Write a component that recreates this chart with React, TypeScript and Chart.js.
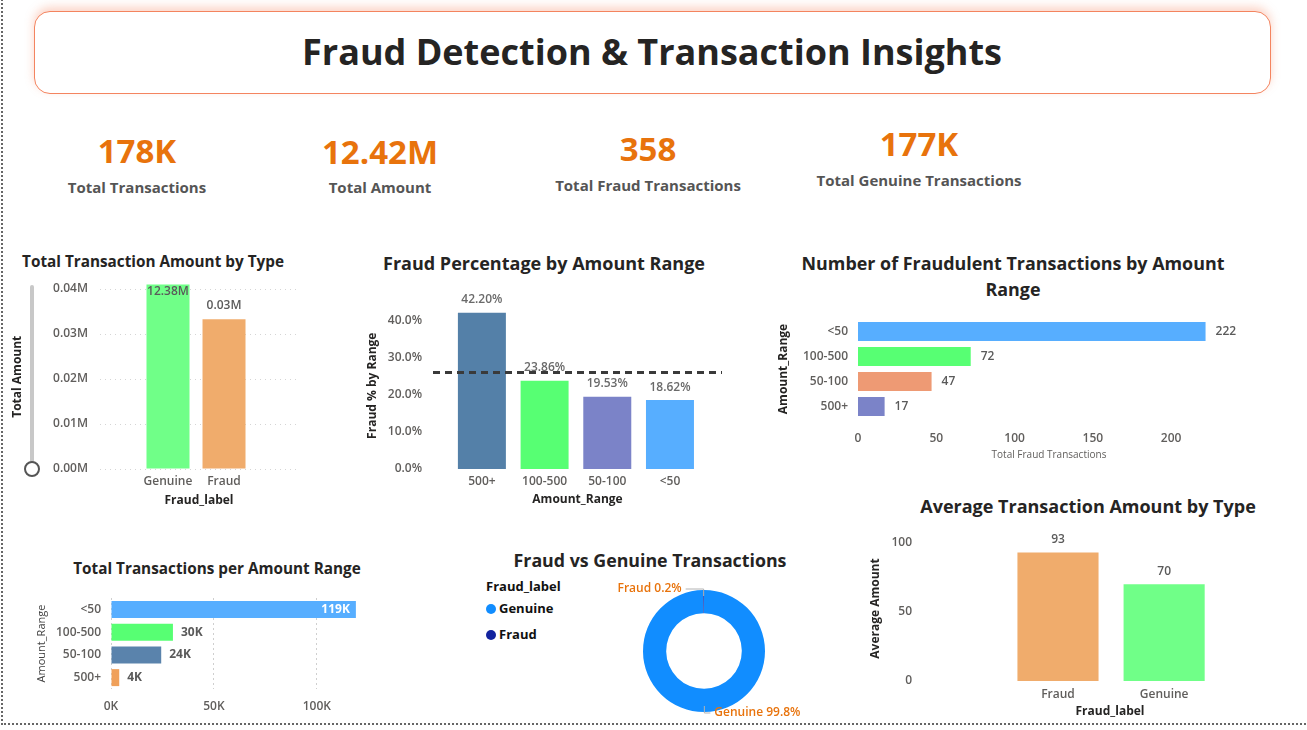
import React, { useEffect, useRef } from 'react';
import { Chart, registerables } from 'chart.js';

Chart.register(...registerables);

const FONT = "'Open Sans', 'Noto Sans', sans-serif";
Chart.defaults.font.family = FONT;

const TICK = '#605E5C';
const DARK = '#252423';
const ORANGE = '#E8730C';

// ---------------- DATA ----------------
const dashboardTitle = 'Fraud Detection & Transaction Insights';

const kpiValues = ['178K', '12.42M', '358', '177K'];
const kpiLabels = ['Total Transactions', 'Total Amount', 'Total Fraud Transactions', 'Total Genuine Transactions'];

// Total Transaction Amount by Type
const amountTypeLabels = ['Genuine', 'Fraud'];
const totalAmountByType = [12380000, 33300];
const amountAxisTicks = [0, 10000, 20000, 30000, 40000];

// Fraud Percentage by Amount Range
const pctRangeLabels = ['500+', '100-500', '50-100', '<50'];
const fraudPctByRange = [42.2, 23.86, 19.53, 18.62];
const fraudPctAverage = 26.05;
const pctAxisTicks = [0, 10, 20, 30, 40];

// Number of Fraudulent Transactions by Amount Range
const fraudCountRangeLabels = ['<50', '100-500', '50-100', '500+'];
const fraudCountByRange = [222, 72, 47, 17];
const fraudCountAxisTicks = [0, 50, 100, 150, 200];

// Total Transactions per Amount Range
const txnRangeLabels = ['<50', '100-500', '50-100', '500+'];
const txnCountByRange = [119000, 30100, 24400, 4000];
const txnAxisTicks = [0, 50000, 100000];

// Fraud vs Genuine Transactions
const donutLabels = ['Genuine', 'Fraud'];
const donutValues = [177450, 358];

// Average Transaction Amount by Type
const avgTypeLabels = ['Fraud', 'Genuine'];
const avgAmountByType = [93, 70];
const avgAxisTicks = [0, 50, 100];

// ---------------- STYLES ----------------
const amountTypeColors = ['#70FF88', '#F0AC6C'];
const pctRangeColors = ['#5480A8', '#57FF73', '#7B83C8', '#57AEFF'];
const fraudCountColors = ['#57AEFF', '#57FF73', '#EE9A74', '#7B83C8'];
const txnRangeColors = ['#57AEFF', '#57FF73', '#5A83AC', '#F0A05A'];
const donutColors = ['#118DFF', '#12239E'];
const avgTypeColors = ['#F0AC6C', '#70FF88'];

const kpiPos = [
  { x: 137, v: 150, l: 187 },
  { x: 380, v: 151, l: 187 },
  { x: 648, v: 148, l: 185 },
  { x: 919, v: 143, l: 180 },
];

// ---------------- PLUGINS ----------------
function makeBarLabels(cfg: any) {
  return {
    id: 'barLabels',
    afterDatasetsDraw(chart: any) {
      const { ctx, chartArea } = chart;
      const horizontal = chart.options.indexAxis === 'y';
      const meta = chart.getDatasetMeta(0);
      const values = cfg.values;
      ctx.save();
      ctx.font = cfg.font || `600 12px ${FONT}`;
      meta.data.forEach((bar: any, i: number) => {
        const text = cfg.format(values[i]);
        const inside = cfg.inside && cfg.inside.includes(i);
        ctx.fillStyle = inside ? cfg.insideColor : cfg.color;
        ctx.textBaseline = 'middle';
        if (horizontal) {
          const end = Math.min(bar.x, chartArea.right);
          if (inside) {
            ctx.textAlign = 'right';
            ctx.fillText(text, end - 6, bar.y);
          } else {
            ctx.textAlign = 'left';
            ctx.fillText(text, end + cfg.offset, bar.y);
          }
        } else {
          const top = Math.max(bar.y, chartArea.top);
          ctx.textAlign = 'center';
          if (inside) ctx.fillText(text, bar.x, top + 7);
          else ctx.fillText(text, bar.x, top - cfg.offset);
        }
      });
      ctx.restore();
    },
  };
}

function makeAvgLine(value: number) {
  return {
    id: 'avgLine',
    afterDatasetsDraw(chart: any) {
      const { ctx, chartArea, scales } = chart;
      const y = scales.y.getPixelForValue(value);
      ctx.save();
      ctx.strokeStyle = '#3A3A3A';
      ctx.lineWidth = 3;
      ctx.setLineDash([7, 5]);
      ctx.beginPath();
      ctx.moveTo(chartArea.left, y);
      ctx.lineTo(chartArea.right, y);
      ctx.stroke();
      ctx.restore();
    },
  };
}

function makeDonutLabels(lineLens: number[]) {
  return {
    id: 'donutLabels',
    afterDatasetsDraw(chart: any) {
      const { ctx } = chart;
      const meta = chart.getDatasetMeta(0);
      const data = chart.data.datasets[0].data as number[];
      const total = data.reduce((a, b) => a + b, 0);
      ctx.save();
      ctx.font = `600 12px ${FONT}`;
      ctx.textBaseline = 'middle';
      meta.data.forEach((arc: any, i: number) => {
        const mid = (arc.startAngle + arc.endAngle) / 2;
        const r = arc.outerRadius;
        const side = Math.cos(mid) < 0 ? -1 : 1;
        const vert = Math.sin(mid) < 0 ? -1 : 1;
        const ax = arc.x + Math.cos(mid) * (r - 6);
        const ay = arc.y + Math.sin(mid) * (r - 6);
        const ey = arc.y + vert * (r + 1);
        const ex = ax + side * lineLens[i];
        ctx.strokeStyle = '#B3B3B3';
        ctx.lineWidth = 1;
        ctx.beginPath();
        ctx.moveTo(ax, ay);
        ctx.lineTo(ax, ey);
        ctx.lineTo(ex, ey);
        ctx.stroke();
        const pct = ((data[i] / total) * 100).toFixed(1);
        ctx.fillStyle = ORANGE;
        ctx.textAlign = side < 0 ? 'right' : 'left';
        ctx.fillText(`${chart.data.labels[i]} ${pct}%`, ex + side * 4, ey);
      });
      ctx.restore();
    },
  };
}

// ---------------- HELPERS ----------------
const tickFont = { size: 12, weight: '600' as any };
const axisTitleFont = { size: 12, weight: 'bold' as any };

const fixHeight = (h: number) => (s: any) => {
  s.height = h;
  s.paddingLeft = 0;
  s.paddingRight = 0;
};
const fixWidth = (w: number) => (s: any) => {
  s.width = w;
  s.paddingTop = 0;
  s.paddingBottom = 0;
};
const useTicks = (values: number[]) => (s: any) => {
  s.ticks = values.map((value) => ({ value }));
};

function categoryLinearAxis(labels: string[], min: number, max: number, tickPad: number, title: string, titlePadBottom: number, height: number) {
  return {
    type: 'linear',
    min,
    max,
    bounds: 'data',
    offset: false,
    grid: { display: false, drawTicks: false, offset: false },
    border: { display: false },
    afterBuildTicks: (s: any) => {
      s.ticks = labels.map((_, i) => ({ value: i }));
    },
    ticks: {
      callback: (v: any) => labels[v] ?? '',
      padding: tickPad,
      autoSkip: false,
      maxRotation: 0,
      color: TICK,
      font: tickFont,
    },
    title: { display: true, text: title, color: DARK, font: { size: 12, weight: 'bold' }, padding: { top: 0, bottom: titlePadBottom } },
    afterFit: fixHeight(height),
  };
}

function ChartBox({ left, top, width, height, make }: any) {
  const ref = useRef<HTMLCanvasElement>(null);
  useEffect(() => {
    const chart = new Chart(ref.current as HTMLCanvasElement, make());
    return () => chart.destroy();
  }, []);
  return (
    <div style={{ position: 'absolute', left, top, width, height }}>
      <canvas ref={ref} width={width} height={height} style={{ display: 'block', width, height }} />
    </div>
  );
}

function Text({ x, y, size, weight = 700, color = DARK, children, style }: any) {
  return (
    <div
      style={{
        position: 'absolute',
        left: x,
        top: y,
        transform: 'translate(-50%, -50%)',
        whiteSpace: 'nowrap',
        fontFamily: FONT,
        fontSize: size,
        fontWeight: weight,
        color,
        lineHeight: 1,
        ...style,
      }}
    >
      {children}
    </div>
  );
}

// ---------------- CHART CONFIGS ----------------
const makeAmountByType = () => ({
  type: 'bar',
  data: {
    datasets: [
      {
        data: totalAmountByType.map((y, i) => ({ x: i, y })),
        backgroundColor: amountTypeColors,
        barPercentage: 43 / 56,
        categoryPercentage: 1,
      },
    ],
  },
  options: {
    responsive: false,
    animation: false,
    layout: { padding: { top: 9.5, right: 7, left: 0, bottom: 0 } },
    plugins: { legend: { display: false }, tooltip: { enabled: false } },
    scales: {
      x: categoryLinearAxis(amountTypeLabels, -1.214, 2.321, 5, 'Fraud_label', 2.4, 41),
      y: {
        min: 0,
        max: 41000,
        bounds: 'data',
        afterBuildTicks: useTicks(amountAxisTicks),
        ticks: {
          callback: (v: any) => (v / 1e6).toFixed(2) + 'M',
          padding: 12,
          color: TICK,
          font: tickFont,
        },
        grid: { color: '#D5D5D5', drawTicks: false },
        border: { display: false, dash: [1, 4] },
        title: { display: true, text: 'Total Amount', color: DARK, font: axisTitleFont, padding: { top: 5, bottom: 0 } },
        afterFit: fixWidth(95),
      },
    },
  },
  plugins: [
    makeBarLabels({
      values: totalAmountByType,
      format: (v: number) => (v / 1e6).toFixed(2) + 'M',
      color: '#5A5A5A',
      inside: [0],
      insideColor: '#5A5A5A',
      offset: 14,
    }),
  ],
});

const makeFraudPct = () => ({
  type: 'bar',
  data: {
    datasets: [
      {
        data: fraudPctByRange.map((y, i) => ({ x: i, y })),
        backgroundColor: pctRangeColors,
        barPercentage: 48 / 62.7,
        categoryPercentage: 1,
      },
    ],
  },
  options: {
    responsive: false,
    animation: false,
    layout: { padding: { top: 17.5, right: 13, left: 0, bottom: 0 } },
    plugins: { legend: { display: false }, tooltip: { enabled: false } },
    scales: {
      x: categoryLinearAxis(pctRangeLabels, -0.78, 3.83, 5, 'Amount_Range', 3.5, 41),
      y: {
        min: 0,
        max: 45,
        bounds: 'data',
        afterBuildTicks: useTicks(pctAxisTicks),
        ticks: {
          callback: (v: any) => Number(v).toFixed(1) + '%',
          padding: 11,
          color: TICK,
          font: tickFont,
        },
        grid: { display: false, drawTicks: false },
        border: { display: false },
        title: { display: true, text: 'Fraud % by Range', color: DARK, font: axisTitleFont, padding: { top: 10, bottom: 0 } },
        afterFit: fixWidth(78),
      },
    },
  },
  plugins: [
    makeBarLabels({
      values: fraudPctByRange,
      format: (v: number) => v.toFixed(2) + '%',
      color: '#6A6A6A',
      offset: 13,
    }),
    makeAvgLine(fraudPctAverage),
  ],
});

const makeFraudCount = () => ({
  type: 'bar',
  data: {
    labels: fraudCountRangeLabels,
    datasets: [
      {
        data: fraudCountByRange,
        backgroundColor: fraudCountColors,
        barPercentage: 19 / 25,
        categoryPercentage: 1,
      },
    ],
  },
  options: {
    indexAxis: 'y',
    responsive: false,
    animation: false,
    layout: { padding: { top: 14, right: 60, left: 0, bottom: 0 } },
    plugins: { legend: { display: false }, tooltip: { enabled: false } },
    scales: {
      x: {
        min: 0,
        max: 244,
        bounds: 'data',
        afterBuildTicks: useTicks(fraudCountAxisTicks),
        ticks: { padding: 12, color: TICK, font: tickFont },
        grid: { display: false, drawTicks: false },
        border: { display: false },
        title: { display: true, text: 'Total Fraud Transactions', color: TICK, font: { size: 10 }, padding: { top: 0, bottom: 4 } },
        afterFit: fixHeight(46),
      },
      y: {
        ticks: { padding: 10, color: TICK, font: tickFont },
        grid: { display: false, drawTicks: false },
        border: { display: false },
        title: { display: true, text: 'Amount_Range', color: DARK, font: axisTitleFont, padding: { top: 6, bottom: 0 } },
        afterFit: fixWidth(88),
      },
    },
  },
  plugins: [
    makeBarLabels({
      values: fraudCountByRange,
      format: (v: number) => String(v),
      color: '#5A5A5A',
      offset: 10,
    }),
  ],
});

const makeTxnCount = () => ({
  type: 'bar',
  data: {
    labels: txnRangeLabels,
    datasets: [
      {
        data: txnCountByRange,
        backgroundColor: txnRangeColors,
        barPercentage: 17 / 22.75,
        categoryPercentage: 1,
      },
    ],
  },
  options: {
    indexAxis: 'y',
    responsive: false,
    animation: false,
    layout: { padding: { top: 8, right: 15, left: 0, bottom: 0 } },
    plugins: { legend: { display: false }, tooltip: { enabled: false } },
    scales: {
      x: {
        min: 0,
        max: 121000,
        bounds: 'data',
        afterBuildTicks: useTicks(txnAxisTicks),
        ticks: {
          padding: 10,
          color: TICK,
          font: tickFont,
          callback: (v: any) => v / 1000 + 'K',
        },
        grid: { display: true, color: '#CFCFCF', drawTicks: false },
        border: { display: false, dash: [2, 3] },
        afterFit: fixHeight(31),
      },
      y: {
        ticks: { padding: 10, color: TICK, font: tickFont },
        grid: { display: false, drawTicks: false },
        border: { display: false },
        title: { display: true, text: 'Amount_Range', color: '#444', font: { size: 11 }, padding: { top: 5, bottom: 0 } },
        afterFit: fixWidth(81),
      },
    },
  },
  plugins: [
    makeBarLabels({
      values: txnCountByRange,
      format: (v: number) => Math.round(v / 1000) + 'K',
      color: '#5A5A5A',
      inside: [0],
      insideColor: '#FFFFFF',
      offset: 8,
      font: `700 12px ${FONT}`,
    }),
  ],
});

const makeDonut = () => ({
  type: 'doughnut',
  data: {
    labels: donutLabels,
    datasets: [{ data: donutValues, backgroundColor: donutColors, borderWidth: 0 }],
  },
  options: {
    responsive: false,
    animation: false,
    cutout: '62%',
    layout: { padding: 14 },
    plugins: { legend: { display: false }, tooltip: { enabled: false } },
  },
  plugins: [makeDonutLabels([6, 18])],
});

const makeAvgAmount = () => ({
  type: 'bar',
  data: {
    datasets: [
      {
        data: avgAmountByType.map((y, i) => ({ x: i, y })),
        backgroundColor: avgTypeColors,
        barPercentage: 81 / 106,
        categoryPercentage: 1,
      },
    ],
  },
  options: {
    responsive: false,
    animation: false,
    layout: { padding: { top: 11, right: 5, left: 0, bottom: 0 } },
    plugins: { legend: { display: false }, tooltip: { enabled: false } },
    scales: {
      x: categoryLinearAxis(avgTypeLabels, -1.3, 2.28, 6, 'Fraud_label', 6, 44),
      y: {
        min: 0,
        max: 105,
        bounds: 'data',
        afterBuildTicks: useTicks(avgAxisTicks),
        ticks: { padding: 8, color: TICK, font: tickFont },
        grid: { display: false, drawTicks: false },
        border: { display: false },
        title: { display: true, text: 'Average Amount', color: DARK, font: axisTitleFont, padding: { top: 8, bottom: 0 } },
        afterFit: fixWidth(60),
      },
    },
  },
  plugins: [
    makeBarLabels({
      values: avgAmountByType,
      format: (v: number) => String(v),
      color: '#5A5A5A',
      offset: 13,
    }),
  ],
});

// ---------------- APP ----------------
export default function App() {
  return (
    <div
      style={{
        position: 'absolute',
        left: 0,
        top: 0,
        width: 1307,
        height: 730,
        overflow: 'hidden',
        background: '#FFFFFF',
        fontFamily: FONT,
      }}
    >
      {/* dotted page frame */}
      <div
        style={{
          position: 'absolute',
          left: 1,
          top: -4,
          width: 1320,
          height: 729,
          borderLeft: '2px dotted #666',
          borderBottom: '2px dotted #666',
          boxSizing: 'border-box',
        }}
      />

      {/* header */}
      <div
        style={{
          position: 'absolute',
          left: 34,
          top: 11,
          width: 1237,
          height: 83,
          boxSizing: 'border-box',
          border: '1px solid #F4845F',
          borderRadius: 16,
          background: '#fff',
          boxShadow: '0 -4px 10px rgba(244,132,95,0.35)',
        }}
      />
      <Text x={652} y={52} size={36} color={DARK}>
        {dashboardTitle}
      </Text>

      {/* KPIs */}
      {kpiValues.map((v, i) => (
        <React.Fragment key={i}>
          <Text x={kpiPos[i].x} y={kpiPos[i].v} size={33} color={ORANGE}>
            {v}
          </Text>
          <Text x={kpiPos[i].x} y={kpiPos[i].l} size={15} color="#555555">
            {kpiLabels[i]}
          </Text>
        </React.Fragment>
      ))}

      {/* chart titles */}
      <Text x={153} y={262} size={15.3}>Total Transaction Amount by Type</Text>
      <Text x={544} y={263} size={18}>Fraud Percentage by Amount Range</Text>
      <Text x={1013} y={276} size={17.9} style={{ lineHeight: '26px', textAlign: 'center' }}>
        Number of Fraudulent Transactions by Amount
        <br />
        Range
      </Text>
      <Text x={217} y={569} size={15.3}>Total Transactions per Amount Range</Text>
      <Text x={650} y={561} size={17.8}>Fraud vs Genuine Transactions</Text>
      <Text x={1088} y={506} size={18}>Average Transaction Amount by Type</Text>

      {/* charts */}
      <ChartBox left={5} top={275} width={300} height={235} make={makeAmountByType} />
      <ChartBox left={355} top={285} width={380} height={225} make={makeFraudPct} />
      <ChartBox left={770} top={305} width={530} height={160} make={makeFraudCount} />
      <ChartBox left={30} top={590} width={345} height={130} make={makeTxnCount} />
      <ChartBox left={599} top={576} width={210} height={150} make={makeDonut} />
      <ChartBox left={860} top={525} width={445} height={200} make={makeAvgAmount} />

      {/* zoom slider of first chart */}
      <div style={{ position: 'absolute', left: 30, top: 285, width: 4, height: 178, background: '#C8C8C8', borderRadius: 2 }} />
      <div
        style={{
          position: 'absolute',
          left: 24,
          top: 461,
          width: 16,
          height: 16,
          boxSizing: 'border-box',
          border: '2px solid #555',
          borderRadius: '50%',
          background: '#fff',
        }}
      />

      {/* donut legend */}
      <div style={{ position: 'absolute', left: 486, top: 580, fontFamily: FONT, fontSize: 13, fontWeight: 700, color: '#111', lineHeight: 1 }}>
        Fraud_label
      </div>
      {donutLabels.map((l, i) => (
        <div
          key={l}
          style={{
            position: 'absolute',
            left: 486,
            top: 602 + i * 26,
            display: 'flex',
            alignItems: 'center',
            fontFamily: FONT,
            fontSize: 13,
            fontWeight: 700,
            color: '#111',
            lineHeight: 1,
          }}
        >
          <span style={{ width: 10, height: 10, borderRadius: '50%', background: donutColors[i], marginRight: 3, display: 'inline-block' }} />
          {l}
        </div>
      ))}
    </div>
  );
}
